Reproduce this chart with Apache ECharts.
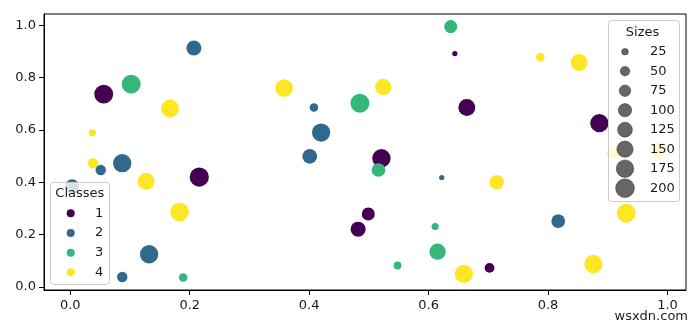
<!DOCTYPE html>
<html>
<head>
<meta charset="utf-8">
<script src="https://cdn.jsdelivr.net/npm/echarts@6/dist/echarts.min.js"></script>
<style>html,body{margin:0;padding:0;background:#fff}#c{width:700px;height:327px}</style>
</head>
<body>
<div id="c"></div>
<script>
// ---- data ----
const classNames = ['1', '2', '3', '4'];
const classColors = ['#440154', '#31688e', '#35b779', '#fde725'];

const class1X = [0.056, 0.216, 0.644, 0.664, 0.521, 0.886, 0.499, 0.482, 0.702];
const class1Y = [0.737, 0.420, 0.892, 0.686, 0.492, 0.626, 0.279, 0.221, 0.073];
const class1S = [193, 200, 15, 155, 181, 181, 92, 122, 52];

const class2X = [0.207, 0.408, 0.420, 0.401, 0.622, 0.817, 0.051, 0.087, 0.003, 0.132, 0.087];
const class2Y = [0.913, 0.686, 0.590, 0.499, 0.418, 0.252, 0.447, 0.473, 0.384, 0.125, 0.038];
const class2S = [122, 39, 181, 117, 15, 102, 59, 181, 112, 181, 59];

const class3X = [0.102, 0.485, 0.637, 0.516, 0.611, 0.615, 0.548, 0.189];
const class3Y = [0.775, 0.702, 0.995, 0.447, 0.231, 0.135, 0.082, 0.036];
const class3S = [193, 193, 92, 102, 28, 144, 33, 39];

const class4X = [0.167, 0.037, 0.358, 0.524, 0.787, 0.852, 0.909, 0.985, 0.931, 0.876, 0.714, 0.659, 0.038, 0.127, 0.183];
const class4Y = [0.682, 0.589, 0.760, 0.764, 0.878, 0.858, 0.512, 0.525, 0.282, 0.088, 0.400, 0.050, 0.473, 0.403, 0.287];
const class4S = [174, 28, 168, 144, 39, 155, 75, 150, 193, 181, 112, 181, 59, 155, 193];

const sizeTicks = [25, 50, 75, 100, 125, 150, 175, 200];
const xTicks = [0, 0.2, 0.4, 0.6, 0.8, 1.0];
const yTicks = [0, 0.2, 0.4, 0.6, 0.8, 1.0];

// ---- build ----
const K = 1.33; // px per sqrt(size)
const symSize = s => Math.sqrt(s) * K;
const classData = [
  [class1X, class1Y, class1S],
  [class2X, class2Y, class2S],
  [class3X, class3Y, class3S],
  [class4X, class4Y, class4S]
];
const FONT = 'DejaVu Sans';
const TXT = '#1a1a1a';
const font13 = '13px "' + FONT + '"';

const series = classData.map((d, i) => ({
  name: classNames[i],
  type: 'scatter',
  data: d[0].map((x, j) => [x, d[1][j], d[2][j]]),
  symbol: 'circle',
  symbolSize: v => Math.sqrt(v[2]) * 1.36,
  itemStyle: { color: classColors[i], opacity: 1 },
  emphasis: { disabled: true },
  z: 2
}));

const graphics = [];
// Classes legend box
graphics.push({ type: 'rect', z: 100, shape: { x: 50.5, y: 182.5, width: 59, height: 102, r: 3 },
  style: { fill: 'rgba(255,255,255,0.8)', stroke: '#cccccc', lineWidth: 1 } });
graphics.push({ type: 'text', z: 101, x: 79.8, y: 193.5,
  style: { text: 'Classes', fill: TXT, font: font13, align: 'center', verticalAlign: 'middle' } });
classNames.forEach((name, i) => {
  const cy = 213.3 + i * 19.67;
  graphics.push({ type: 'circle', z: 101, shape: { cx: 70.7, cy: cy, r: 4 },
    style: { fill: classColors[i] } });
  graphics.push({ type: 'text', z: 101, x: 95, y: cy,
    style: { text: name, fill: TXT, font: font13, align: 'left', verticalAlign: 'middle' } });
});
// Sizes legend box
graphics.push({ type: 'rect', z: 100, shape: { x: 608.5, y: 20.5, width: 71, height: 181, r: 3 },
  style: { fill: 'rgba(255,255,255,0.8)', stroke: '#cccccc', lineWidth: 1 } });
graphics.push({ type: 'text', z: 101, x: 642.5, y: 32.5,
  style: { text: 'Sizes', fill: TXT, font: font13, align: 'center', verticalAlign: 'middle' } });
sizeTicks.forEach((s, i) => {
  const cy = 51.7 + i * 19.5;
  graphics.push({ type: 'circle', z: 101, shape: { cx: 625, cy: cy, r: symSize(s) / 2 },
    style: { fill: 'rgba(0,0,0,0.6)', stroke: 'rgba(0,0,0,0.35)', lineWidth: 1 } });
  graphics.push({ type: 'text', z: 101, x: 650, y: cy,
    style: { text: String(s), fill: TXT, font: font13, align: 'left', verticalAlign: 'middle' } });
});
// watermark
graphics.push({ type: 'text', z: 101, x: 688, y: 317,
  style: { text: 'wsxdn.com', fill: '#222', font: font13, align: 'right', verticalAlign: 'middle',
    stroke: '#fff', lineWidth: 2 } });

const axisCommon = {
  type: 'value',
  splitLine: { show: false },
  axisLine: { show: true, onZero: false, lineStyle: { color: '#000', width: 1 } },
  axisTick: { show: true, inside: false, length: 5, lineStyle: { color: '#000', width: 1 } },
  axisLabel: { color: TXT, fontFamily: FONT, fontSize: 13, margin: 8, formatter: v => v.toFixed(1) }
};

const option = {
  animation: false,
  backgroundColor: '#fff',
  grid: { left: 44, right: 14, top: 14, bottom: 37, show: true, borderColor: '#000', borderWidth: 1, backgroundColor: 'transparent' },
  xAxis: Object.assign({}, axisCommon, {
    min: -0.044, max: 1.031,
    axisTick: Object.assign({}, axisCommon.axisTick, { customValues: xTicks }),
    axisLabel: Object.assign({}, axisCommon.axisLabel, { customValues: xTicks, margin: 9 })
  }),
  yAxis: Object.assign({}, axisCommon, {
    min: -0.0115, max: 1.043,
    axisTick: Object.assign({}, axisCommon.axisTick, { customValues: yTicks }),
    axisLabel: Object.assign({}, axisCommon.axisLabel, { customValues: yTicks })
  }),
  graphic: graphics,
  series: series
};

const chart = echarts.init(document.getElementById('c'), null, { renderer: 'canvas' });
chart.setOption(option);
</script>
</body>
</html>
